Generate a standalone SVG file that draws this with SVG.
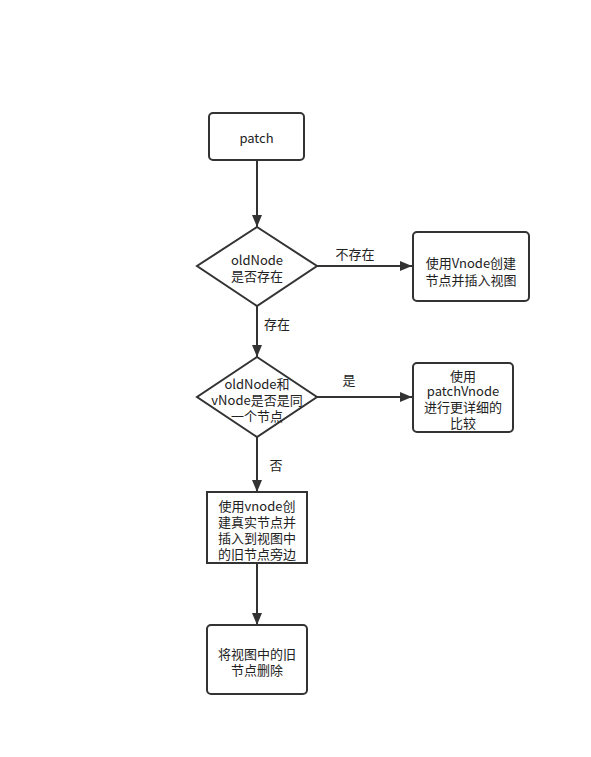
<svg xmlns="http://www.w3.org/2000/svg" width="591" height="757" viewBox="0 0 591 757">
<style>
.box{fill:#fff;stroke:#333;stroke-width:2}
.ln{fill:none;stroke:#333;stroke-width:2}
text{font-family:"Noto Sans CJK SC","Liberation Sans",sans-serif;font-size:13px;fill:#222;text-anchor:middle;dominant-baseline:central}
</style>
<defs>
<marker id="ah" viewBox="0 0 12 10" refX="12" refY="5" markerWidth="12" markerHeight="10" markerUnits="userSpaceOnUse" orient="auto">
<path d="M0,0 L12,5 L0,10 Z" fill="#333"/>
</marker>
</defs>
<rect width="591" height="757" fill="#fff"/>
<g id="connectors">
<line class="ln" x1="257" y1="160" x2="257" y2="227" marker-end="url(#ah)"/>
<line class="ln" x1="317" y1="266" x2="412" y2="266" marker-end="url(#ah)"/>
<line class="ln" x1="257" y1="306" x2="257" y2="357" marker-end="url(#ah)"/>
<line class="ln" x1="317" y1="397" x2="412" y2="397" marker-end="url(#ah)"/>
<line class="ln" x1="257" y1="437" x2="257" y2="492" marker-end="url(#ah)"/>
<line class="ln" x1="257" y1="563" x2="257" y2="625" marker-end="url(#ah)"/>
<text x="355" y="253">不存在</text>
<text x="277" y="323">存在</text>
<text x="349" y="379">是</text>
<text x="276" y="464">否</text>
</g>
<g id="patch">
<rect class="box" x="209" y="113" width="95" height="47" rx="4"/>
<text x="256.5" y="137">patch</text>
</g>
<g id="oldNodeExists">
<path class="box" d="M257,227 L317,266 L257,306 L197,266 Z"/>
<text x="257" y="259">oldNode</text>
<text x="257" y="275">是否存在</text>
</g>
<g id="createVnode">
<rect class="box" x="413" y="232" width="116" height="69" rx="4"/>
<text x="471" y="262">使用Vnode创建</text>
<text x="471" y="279">节点并插入视图</text>
</g>
<g id="sameNode">
<path class="box" d="M257,357 L317,397 L257,437 L197,397 Z"/>
<text x="257" y="383">oldNode和</text>
<text x="257" y="399">vNode是否是同</text>
<text x="257" y="415">一个节点</text>
</g>
<g id="patchVnode">
<rect class="box" x="413" y="363" width="100" height="69" rx="4"/>
<text x="463" y="375">使用</text>
<text x="463" y="390">patchVnode</text>
<text x="463" y="406">进行更详细的</text>
<text x="463" y="422">比较</text>
</g>
<g id="createReal">
<rect class="box" x="207" y="492" width="100" height="71"/>
<text x="257" y="505">使用vnode创</text>
<text x="257" y="521">建真实节点并</text>
<text x="257" y="537">插入到视图中</text>
<text x="257" y="553">的旧节点旁边</text>
</g>
<g id="removeOld">
<rect class="box" x="207" y="625" width="100" height="69" rx="4"/>
<text x="257" y="653">将视图中的旧</text>
<text x="257" y="669">节点删除</text>
</g>
</svg>
